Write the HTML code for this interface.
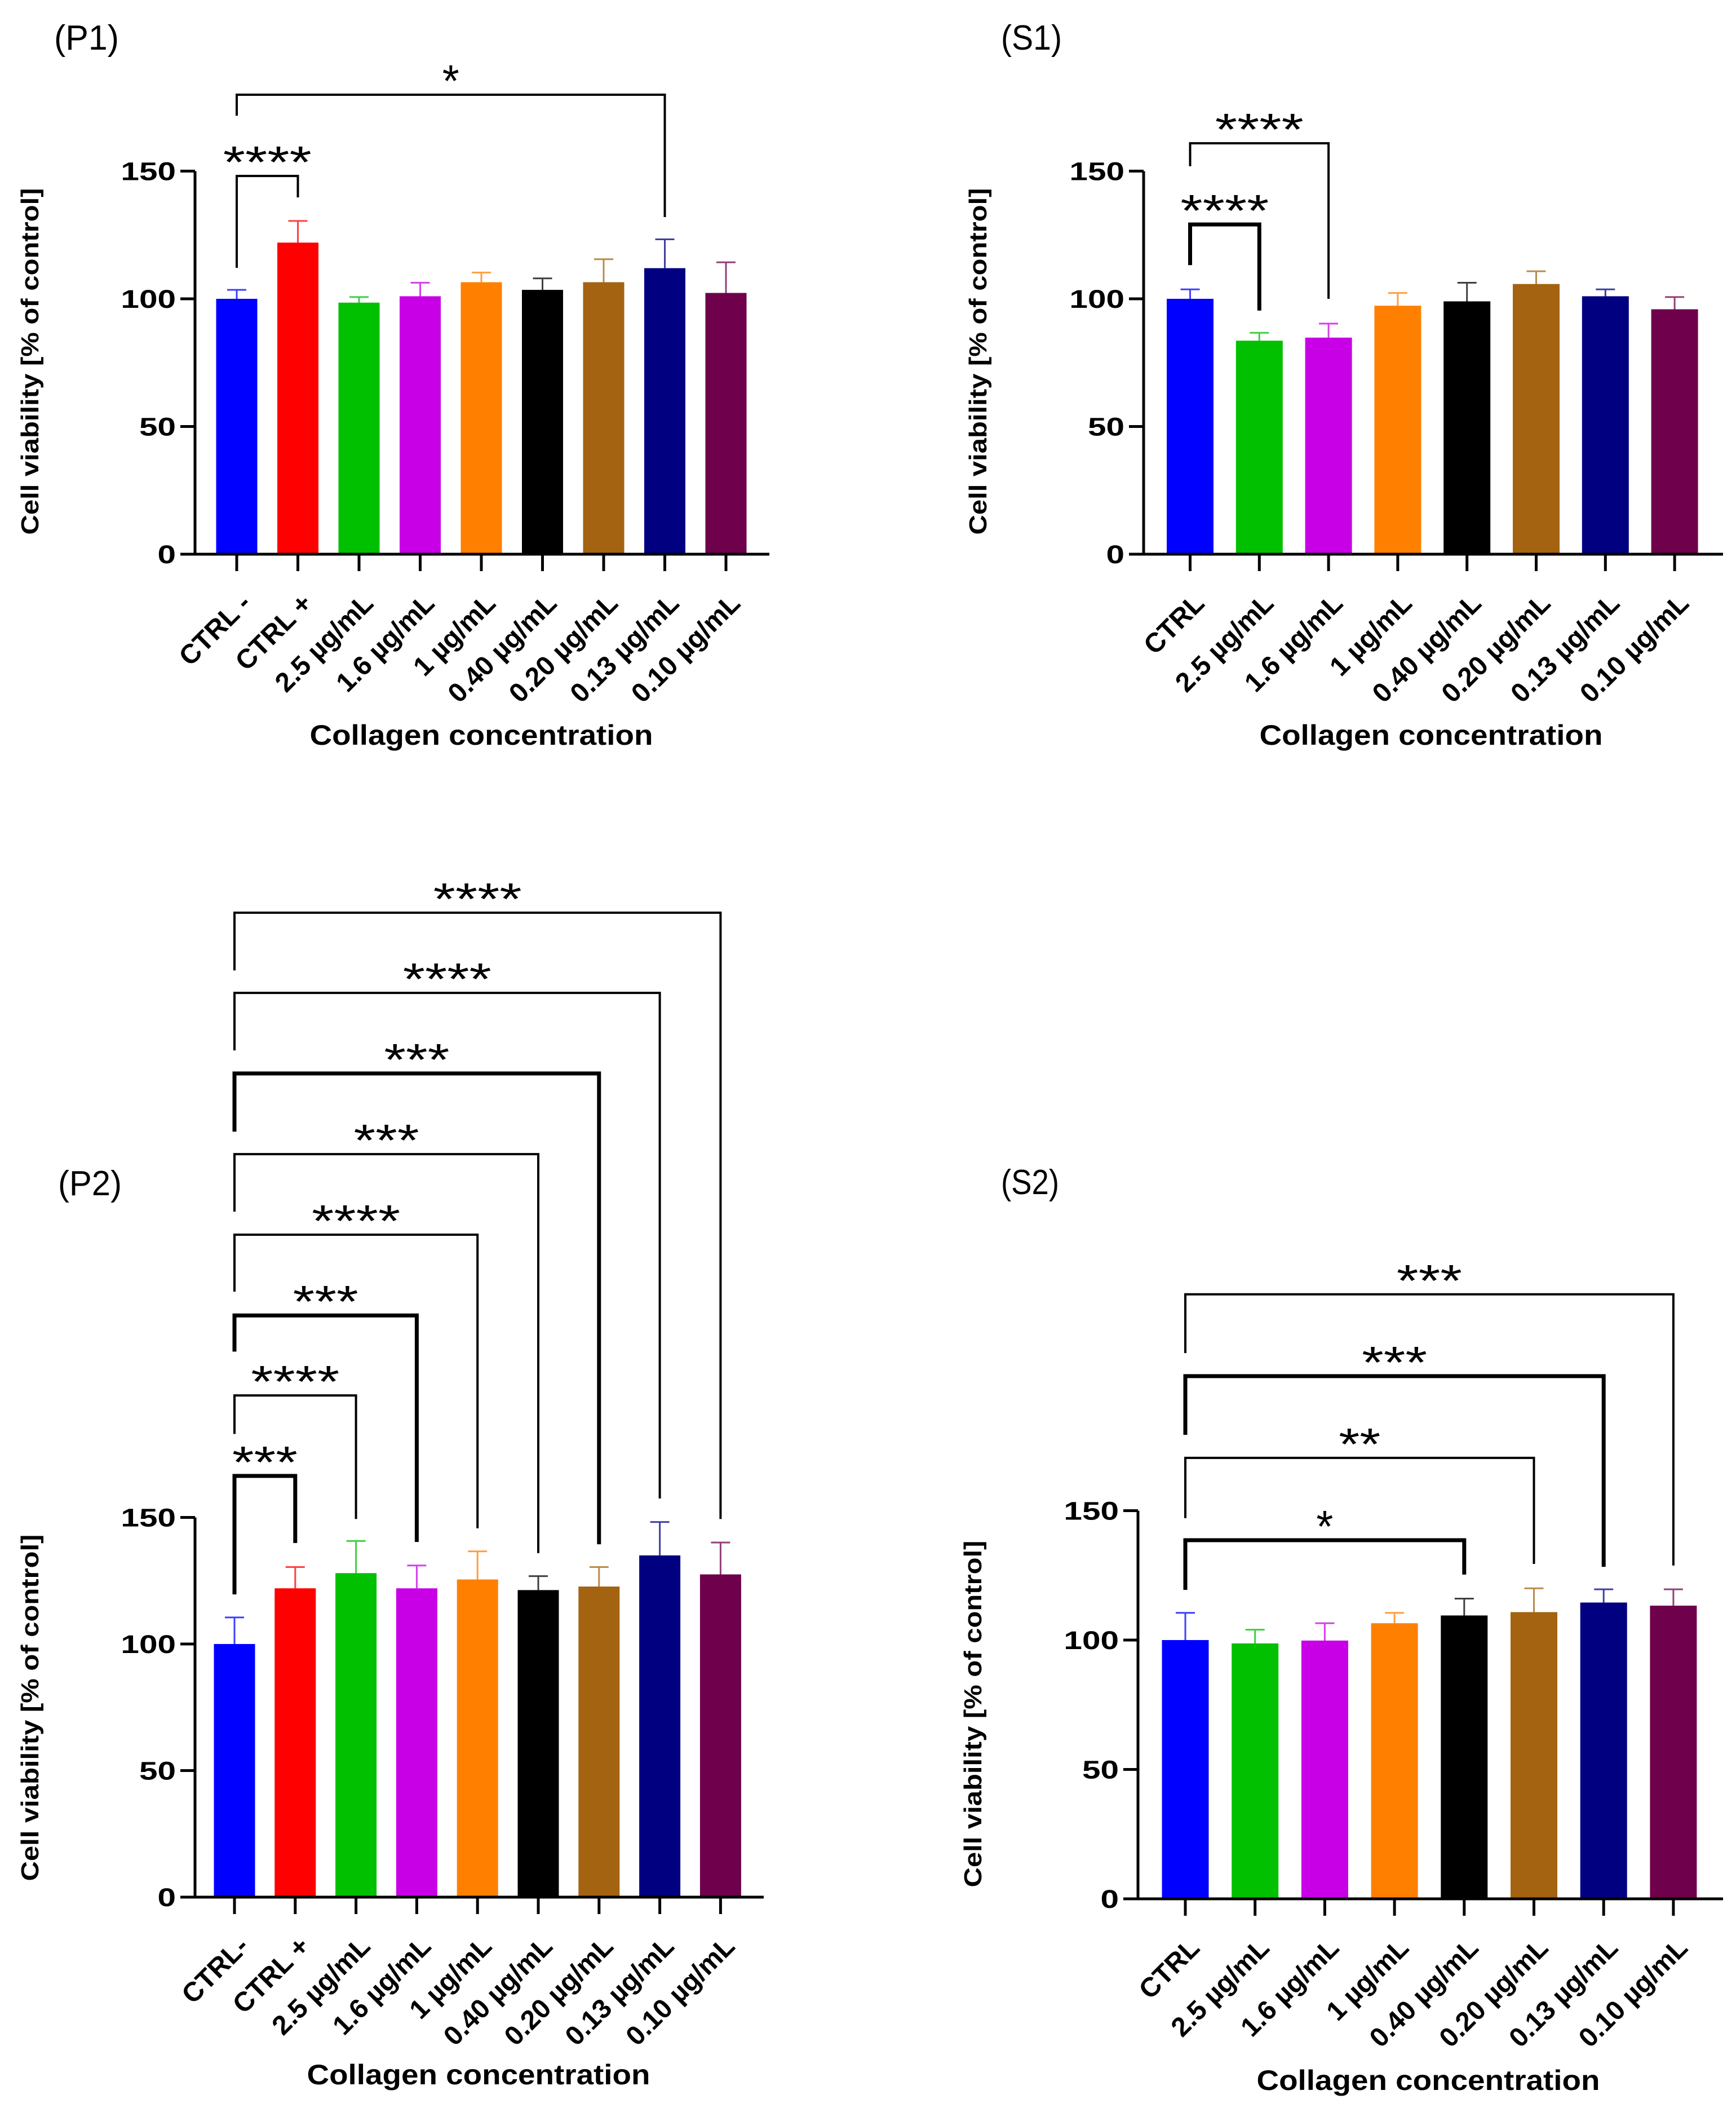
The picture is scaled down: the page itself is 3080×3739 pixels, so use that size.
<!DOCTYPE html>
<html><head><meta charset="utf-8">
<style>
html,body{margin:0;padding:0;background:#fff;}
svg{display:block;}
text{font-family:"Liberation Sans",Arial,sans-serif;}
</style></head>
<body>
<svg id="fig" width="3080" height="3739" viewBox="0 0 3080 3739" xmlns="http://www.w3.org/2000/svg">
<rect width="3080" height="3739" fill="#fff"/>
</svg>
<script>
// ---- data ----
const catsP = ["CTRL -","CTRL +","2.5 µg/mL","1.6 µg/mL","1 µg/mL","0.40 µg/mL","0.20 µg/mL","0.13 µg/mL","0.10 µg/mL"];
const catsP2 = ["CTRL-","CTRL +","2.5 µg/mL","1.6 µg/mL","1 µg/mL","0.40 µg/mL","0.20 µg/mL","0.13 µg/mL","0.10 µg/mL"];
const catsS = ["CTRL","2.5 µg/mL","1.6 µg/mL","1 µg/mL","0.40 µg/mL","0.20 µg/mL","0.13 µg/mL","0.10 µg/mL"];
const colorsP = ["#0000ff","#ff0000","#00c000","#c800e6","#ff8000","#000000","#a36311","#000080","#6e004c"];
const colorsS = ["#0000ff","#00c000","#c800e6","#ff8000","#000000","#a36311","#000080","#6e004c"];
const yTicks = [0,50,100,150];

const p1Values = [100,122,98.5,101,106.5,103.5,106.5,112,102.3];
const p1Errors = [103.5,130.5,100.7,106.3,110.3,108,115.5,123.3,114.3];
const s1Values = [100,83.6,84.8,97.3,99,105.8,101,95.9];
const s1Errors = [103.7,86.7,90.3,102.3,106.3,110.8,103.7,100.7];
const p2Values = [100,122,128,122,125.5,121.3,122.7,135,127.5];
const p2Errors = [110.5,130.4,140.7,131,136.6,126.8,130.4,148.2,140.1];
const s2Values = [100,98.7,99.8,106.5,109.5,110.8,114.5,113.3];
const s2Errors = [110.5,104,106.5,110.5,116,120,119.6,119.6];

// significance brackets: [fromIndex, toIndex, label, topValue, leftEndValue, rightEndValue, thick]
const p1Sig = [[0,1,"****",148.1,112.1,139.7,0],[0,7,"*",179.9,171.7,132,0]];
const s1Sig = [[0,1,"****",129.1,113.2,95.4,1],[0,2,"****",160.9,151.9,100,0]];
const p2Sig = [
 [0,8,"****",388.9,366.1,149.4,0],
 [0,7,"****",357.2,334.5,157.5,0],
 [0,6,"***",325.4,302.4,139.4,1],
 [0,5,"***",293.5,270.8,135.9,0],
 [0,4,"****",261.7,239.2,145.7,0],
 [0,3,"***",229.8,215.5,140.3,1],
 [0,2,"****",198.2,183,149.4,0],
 [0,1,"***",166.4,119.6,139.9,1]];
const s2Sig = [
 [0,4,"*",138.6,119.4,125.3,1],
 [0,5,"**",170.4,147.1,129.4,0],
 [0,6,"***",202,179.3,128.3,1],
 [0,7,"***",233.6,210.9,128.8,0]];

const NS="http://www.w3.org/2000/svg";
const svg=document.getElementById('fig');
function mk(tag,attrs,parent){const e=document.createElementNS(NS,tag);for(const k in attrs)e.setAttribute(k,attrs[k]);(parent||svg).appendChild(e);return e;}

function drawPanel(cfg){
  const g=mk('g',{});
  
  
  const y=v=>cfg.y0-v*cfg.ppu;
  const x=i=>cfg.x0+i*cfg.step;
  const pl=mk('text',{x:cfg.lx,y:cfg.ly,'font-size':62,textLength:cfg.lw,lengthAdjust:'spacingAndGlyphs',fill:'#000'},g);
  pl.textContent='('+cfg.id.toUpperCase()+')';
  
  
  cfg.values.forEach((v,i)=>{
    const col=cfg.colors[i];
    const r=mk('rect',{x:x(i)-cfg.bw/2,y:y(v),width:cfg.bw,height:y(0)-y(v),fill:col},g);
    
    
    const e=cfg.errors[i];
    const eg=mk('g',{stroke:col,'stroke-width':3,opacity:0.75},g);
    
    
    mk('line',{x1:x(i),x2:x(i),y1:y(v),y2:y(e)},eg);
    mk('line',{x1:x(i)-17,x2:x(i)+17,y1:y(e),y2:y(e)},eg);
  });
  const ax=mk('g',{stroke:'#000','stroke-width':5,fill:'none'},g);
  
  
  mk('line',{x1:cfg.ax,x2:cfg.ax,y1:y(0)+2,y2:y(150)},ax);
  mk('line',{x1:cfg.ax-26,x2:cfg.xend,y1:y(0),y2:y(0)},ax);
  yTicks.forEach(t=>{
    mk('line',{x1:cfg.ax-26,x2:cfg.ax,y1:y(t),y2:y(t)},ax);
    const tg=mk('g',{transform:`translate(${cfg.ax-34},${y(t)+16}) scale(1.3,1)`},g);
    const tt=mk('text',{x:0,y:0,'font-size':45,'font-weight':'bold','text-anchor':'end',fill:'#000'},tg);
    tt.textContent=t;
    
    
  });
  cfg.cats.forEach((c,i)=>{
    mk('line',{x1:x(i),x2:x(i),y1:y(0),y2:y(0)+30},ax);
    const lx=x(i)+28, ly=y(0)+90;
    const t=mk('text',{x:0,y:0,'font-size':48,'font-weight':'bold','text-anchor':'end',fill:'#000',transform:`translate(${lx},${ly}) rotate(-45)`},g);
    t.textContent=c;
    
    
  });
  const yt=mk('text',{x:0,y:0,'font-size':44,'font-weight':'bold','text-anchor':'middle',textLength:615,lengthAdjust:'spacingAndGlyphs',fill:'#000',transform:`translate(${cfg.ytx},${cfg.yty}) rotate(-90)`},g);
  yt.textContent='Cell viability [% of control]';
  
  
  const xt=mk('text',{x:cfg.xtx,y:cfg.xty,'font-size':50,'font-weight':'bold','text-anchor':'middle',textLength:609,lengthAdjust:'spacingAndGlyphs',fill:'#000'},g);
  xt.textContent='Collagen concentration';
  
  
  cfg.sig.forEach((s,k)=>{
    const [a,b,lab,top,le,re,thick]=s;
    const bg=mk('g',{},g);
    
    
    mk('polyline',{points:`${x(a)},${y(le)} ${x(a)},${y(top)} ${x(b)},${y(top)} ${x(b)},${y(re)}`,fill:'none',stroke:'#000','stroke-width':thick?7:4},bg);
    const tl={"*":30,"**":74,"***":116,"****":157}[lab];
    const st=mk('text',{x:(x(a)+x(b))/2,y:y(top)-44+47,'font-size':80,'text-anchor':'middle',textLength:tl,lengthAdjust:'spacingAndGlyphs',fill:'#000'},bg);
    st.textContent=lab;
    
    
  });
}

drawPanel({id:'p1',cats:catsP,colors:colorsP,values:p1Values,errors:p1Errors,sig:p1Sig,
  x0:420,step:108.5,bw:73,ax:346,xend:1365,y0:983,ppu:4.53,
  lx:96,ly:88,lw:115,ytx:68,yty:641,xtx:854,xty:1321});
drawPanel({id:'s1',cats:catsS,colors:colorsS,values:s1Values,errors:s1Errors,sig:s1Sig,
  x0:2111.5,step:122.8,bw:83,ax:2029,xend:3057,y0:983,ppu:4.53,
  lx:1776,ly:88,lw:108,ytx:1750,yty:641,xtx:2539,xty:1321});
drawPanel({id:'p2',cats:catsP2,colors:colorsP,values:p2Values,errors:p2Errors,sig:p2Sig,
  x0:416,step:107.8,bw:73,ax:346,xend:1355,y0:3365,ppu:4.49,
  lx:103,ly:2120,lw:113,ytx:68,yty:3029,xtx:849,xty:3697});
drawPanel({id:'s2',cats:catsS,colors:colorsS,values:s2Values,errors:s2Errors,sig:s2Sig,
  x0:2103,step:123.7,bw:83,ax:2019,xend:3057,y0:3368,ppu:4.59,
  lx:1776,ly:2118,lw:103,ytx:1741,yty:3040,xtx:2534,xty:3707});
</script>
</body></html>
